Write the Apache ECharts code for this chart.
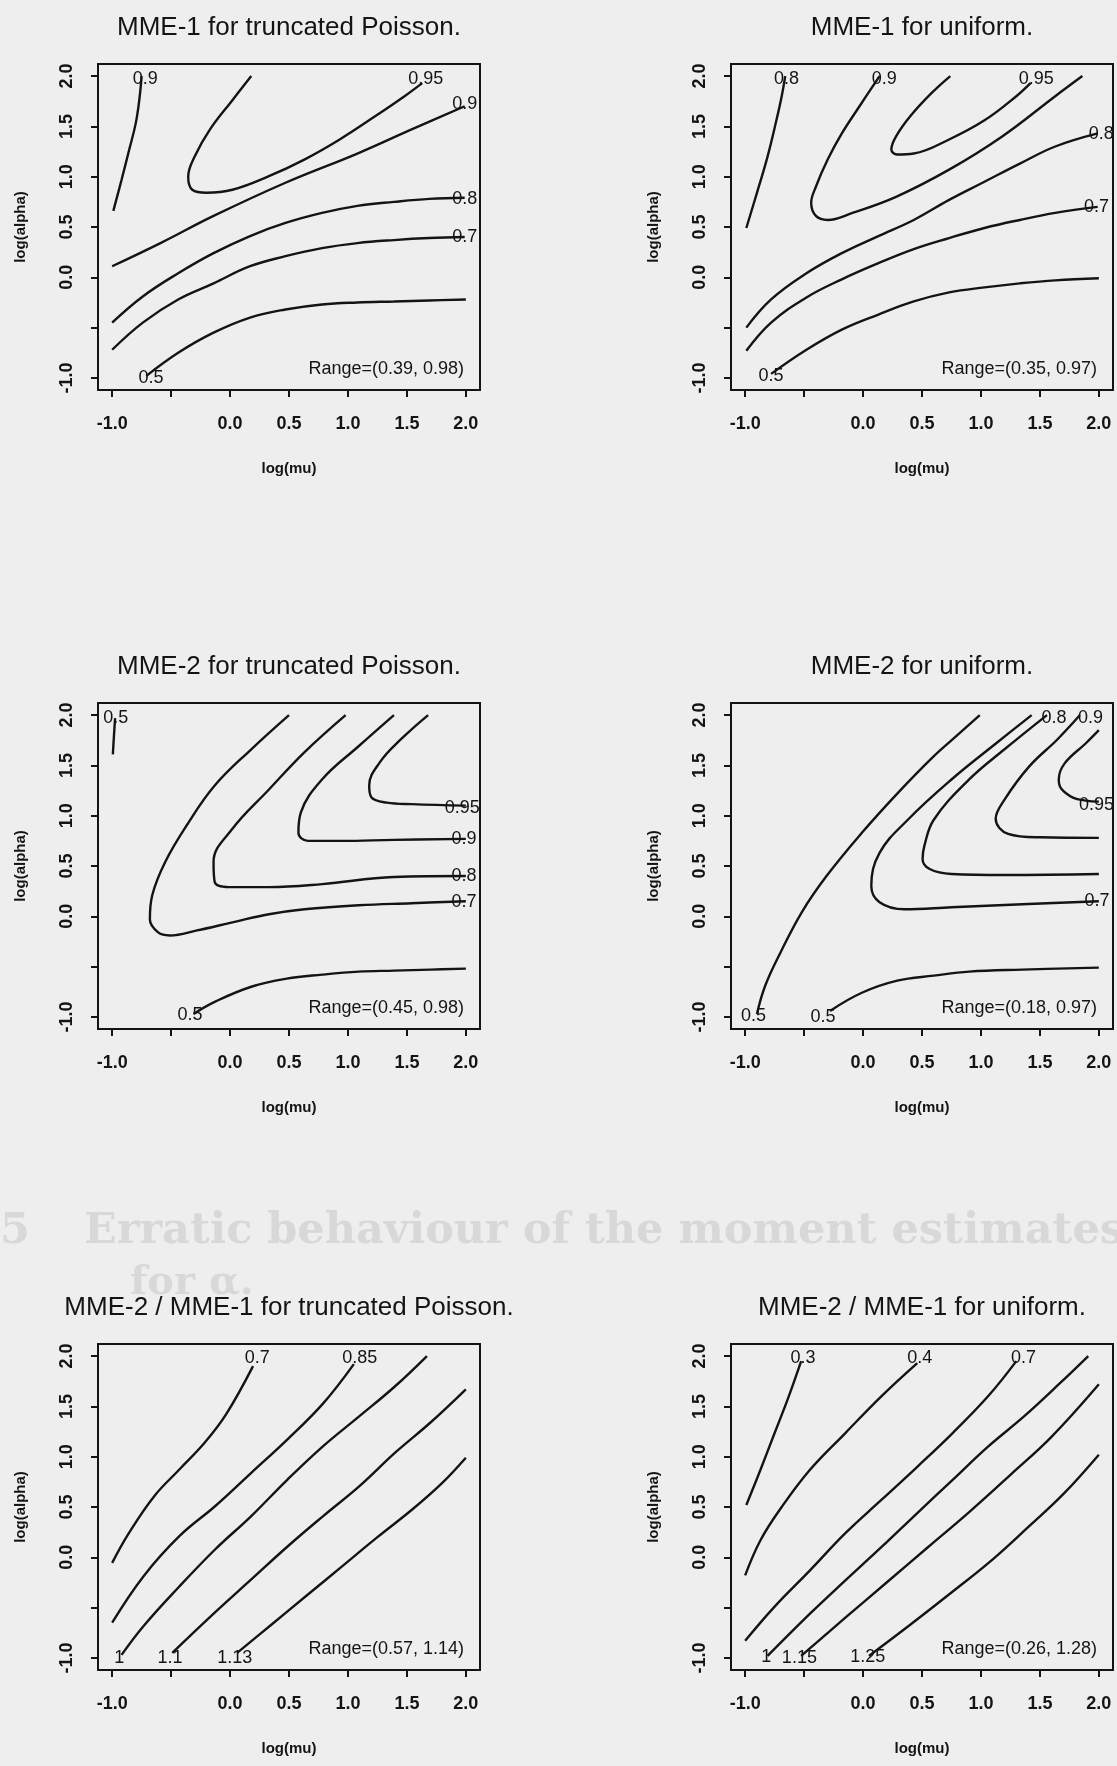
<!DOCTYPE html>
<html>
<head>
<meta charset="utf-8">
<title>MME contour plots</title>
<script src="https://cdn.jsdelivr.net/npm/echarts@6.0.0/dist/echarts.min.js"></script>
<style>
  html, body { margin: 0; padding: 0; background: #eeeeee; }
  #chart { width: 1117px; height: 1766px; }
</style>
</head>
<body>
<div id="chart"></div>
<script>
// ticks shared by all six panels (R drops the -0.5 label, it would overlap)
var tickValues = [-1, -0.5, 0, 0.5, 1, 1.5, 2];
var labelValues = [-1, 0, 0.5, 1, 1.5, 2];

var panelTitles = [
    'MME-1 for truncated Poisson.',
    'MME-1 for uniform.',
    'MME-2 for truncated Poisson.',
    'MME-2 for uniform.',
    'MME-2 / MME-1 for truncated Poisson.',
    'MME-2 / MME-1 for uniform.'
];
var rangeTexts = [
    'Range=(0.39, 0.98)',
    'Range=(0.35, 0.97)',
    'Range=(0.45, 0.98)',
    'Range=(0.18, 0.97)',
    'Range=(0.57, 1.14)',
    'Range=(0.26, 1.28)'
];

// contour lines as [log(mu), log(alpha)] points
var mme1PoissonLines = [
    [[-0.99,0.66],[-0.92,0.97],[-0.855,1.27],[-0.80,1.53],[-0.77,1.76],[-0.75,2.0]],
    [[0.18,2.0],[0.02,1.76],[-0.17,1.47],[-0.30,1.20],[-0.355,1.0],[-0.32,0.87],[-0.20,0.84],[0.02,0.87],[0.32,1.0],[0.63,1.17],[0.93,1.37],[1.23,1.60],[1.48,1.80],[1.63,1.93]],
    [[-1.0,0.11],[-0.59,0.34],[-0.14,0.61],[0.47,0.94],[1.08,1.23],[1.54,1.47],[1.99,1.70]],
    [[-1.0,-0.45],[-0.74,-0.19],[-0.44,0.04],[-0.14,0.24],[0.17,0.41],[0.47,0.54],[0.78,0.64],[1.08,0.71],[1.39,0.75],[1.69,0.78],[1.99,0.79]],
    [[-1.0,-0.72],[-0.74,-0.45],[-0.44,-0.22],[-0.14,-0.06],[0.17,0.11],[0.47,0.21],[0.78,0.29],[1.08,0.34],[1.39,0.37],[1.69,0.39],[1.99,0.40]],
    [[-0.71,-0.98],[-0.44,-0.75],[-0.14,-0.55],[0.17,-0.40],[0.47,-0.32],[0.78,-0.27],[1.08,-0.25],[1.39,-0.24],[1.69,-0.23],[2.0,-0.22]]
];
var mme1PoissonLabels = [[-0.72,1.97,'0.9'],[1.66,1.97,'0.95'],[1.99,1.72,'0.9'],[1.99,0.78,'0.8'],[1.99,0.40,'0.7'],[-0.67,-1.0,'0.5']];

var mme1UniformLines = [
    [[-0.99,0.49],[-0.90,0.84],[-0.81,1.20],[-0.735,1.56],[-0.69,1.80],[-0.66,2.0]],
    [[0.14,2.0],[-0.03,1.70],[-0.18,1.43],[-0.30,1.17],[-0.40,0.90],[-0.44,0.74],[-0.40,0.61],[-0.30,0.57],[-0.09,0.64],[0.28,0.80],[0.73,1.07],[1.18,1.40],[1.63,1.80],[1.86,2.0]],
    [[0.74,2.0],[0.58,1.83],[0.40,1.60],[0.28,1.40],[0.24,1.27],[0.29,1.22],[0.43,1.23],[0.73,1.37],[1.03,1.56],[1.30,1.80],[1.42,1.93]],
    [[-0.99,-0.50],[-0.78,-0.22],[-0.48,0.04],[-0.18,0.24],[0.13,0.41],[0.43,0.57],[0.73,0.77],[1.03,0.95],[1.33,1.13],[1.63,1.30],[1.99,1.43]],
    [[-0.99,-0.73],[-0.78,-0.45],[-0.48,-0.20],[-0.18,-0.02],[0.13,0.14],[0.43,0.28],[0.73,0.39],[1.03,0.49],[1.33,0.57],[1.63,0.64],[1.99,0.70]],
    [[-0.78,-0.96],[-0.48,-0.72],[-0.18,-0.52],[0.13,-0.37],[0.43,-0.24],[0.73,-0.15],[1.03,-0.10],[1.33,-0.06],[1.63,-0.03],[2.0,-0.01]]
];
var mme1UniformLabels = [[-0.65,1.97,'0.8'],[0.18,1.97,'0.9'],[1.47,1.97,'0.95'],[2.02,1.42,'0.8'],[1.98,0.70,'0.7'],[-0.78,-0.98,'0.5']];

var mme2PoissonLines = [
    [[-0.994,1.61],[-0.985,1.79],[-0.975,1.97]],
    [[0.50,2.0],[0.18,1.66],[-0.13,1.30],[-0.37,0.90],[-0.55,0.54],[-0.66,0.21],[-0.68,-0.03],[-0.61,-0.16],[-0.51,-0.19],[-0.28,-0.14],[0.02,-0.06],[0.33,0.02],[0.63,0.07],[1.09,0.11],[1.54,0.13],[2.0,0.15]],
    [[0.98,2.0],[0.63,1.63],[0.33,1.26],[0.02,0.87],[-0.14,0.54],[-0.13,0.34],[-0.01,0.29],[0.33,0.29],[0.78,0.32],[1.39,0.39],[2.0,0.40]],
    [[1.39,2.0],[1.09,1.69],[0.78,1.36],[0.60,1.03],[0.58,0.83],[0.66,0.75],[0.94,0.75],[1.39,0.76],[2.0,0.77]],
    [[1.68,2.0],[1.45,1.76],[1.27,1.53],[1.18,1.30],[1.20,1.18],[1.33,1.13],[1.54,1.115],[2.0,1.10]],
    [[-0.31,-0.97],[-0.13,-0.85],[0.18,-0.70],[0.48,-0.62],[0.78,-0.58],[1.09,-0.55],[1.39,-0.54],[1.70,-0.53],[2.0,-0.52]]
];
var mme2PoissonLabels = [[-0.97,1.97,'0.5'],[1.97,1.08,'0.95'],[1.985,0.77,'0.9'],[1.985,0.40,'0.8'],[1.985,0.14,'0.7'],[-0.34,-0.98,'0.5']];

var mme2UniformLines = [
    [[-0.90,-0.97],[-0.83,-0.69],[-0.70,-0.36],[-0.52,0.04],[-0.31,0.40],[-0.01,0.83],[0.29,1.22],[0.59,1.58],[0.80,1.80],[0.99,2.0]],
    [[1.43,2.0],[1.14,1.73],[0.75,1.36],[0.38,0.96],[0.14,0.63],[0.07,0.30],[0.14,0.14],[0.35,0.07],[0.75,0.09],[1.35,0.12],[2.0,0.15]],
    [[1.56,2.0],[1.20,1.66],[0.90,1.36],[0.60,0.96],[0.52,0.70],[0.505,0.57],[0.565,0.47],[0.75,0.42],[1.20,0.41],[2.0,0.42]],
    [[1.84,2.0],[1.65,1.76],[1.41,1.49],[1.20,1.16],[1.125,0.97],[1.23,0.82],[1.50,0.785],[2.0,0.78]],
    [[2.0,1.85],[1.89,1.72],[1.71,1.52],[1.66,1.36],[1.68,1.27],[1.78,1.18],[1.89,1.15],[2.0,1.14]],
    [[-0.28,-0.94],[-0.01,-0.76],[0.29,-0.64],[0.60,-0.59],[0.90,-0.55],[1.35,-0.53],[2.0,-0.51]]
];
var mme2UniformLabels = [[-0.93,-0.99,'0.5'],[-0.34,-1.0,'0.5'],[1.62,1.97,'0.8'],[1.93,1.97,'0.9'],[1.98,1.11,'0.95'],[1.985,0.15,'0.7']];

var ratioPoissonLines = [
    [[-1.0,-0.055],[-0.857,0.243],[-0.643,0.608],[-0.43,0.873],[-0.216,1.138],[-0.034,1.42],[0.195,1.90]],
    [[-1.0,-0.65],[-0.735,-0.19],[-0.43,0.21],[-0.125,0.51],[0.18,0.84],[0.485,1.17],[0.79,1.53],[1.05,1.92]],
    [[-0.92,-0.97],[-0.735,-0.685],[-0.43,-0.29],[-0.125,0.08],[0.18,0.41],[0.485,0.77],[0.79,1.105],[1.095,1.40],[1.40,1.70],[1.67,2.0]],
    [[-0.49,-0.95],[-0.13,-0.55],[0.18,-0.22],[0.49,0.11],[0.79,0.41],[1.10,0.71],[1.40,1.04],[1.70,1.34],[2.0,1.67]],
    [[0.06,-0.95],[0.35,-0.67],[0.65,-0.38],[0.95,-0.09],[1.25,0.20],[1.55,0.48],[1.80,0.74],[2.0,0.99]]
];
var ratioPoissonLabels = [[0.23,1.98,'0.7'],[1.10,1.98,'0.85'],[-0.94,-1.0,'1'],[-0.51,-1.0,'1.1'],[0.04,-1.0,'1.13']];

var ratioUniformLines = [
    [[-0.99,0.52],[-0.87,0.87],[-0.75,1.235],[-0.63,1.60],[-0.525,1.95]],
    [[-1.0,-0.18],[-0.87,0.17],[-0.69,0.50],[-0.45,0.87],[-0.15,1.235],[0.155,1.60],[0.46,1.93]],
    [[-1.0,-0.83],[-0.75,-0.49],[-0.45,-0.13],[-0.15,0.24],[0.155,0.57],[0.46,0.90],[0.76,1.235],[1.06,1.60],[1.30,1.95]],
    [[-0.81,-0.98],[-0.45,-0.56],[-0.15,-0.23],[0.155,0.10],[0.46,0.44],[0.76,0.77],[1.06,1.10],[1.365,1.40],[1.67,1.73],[1.91,2.0]],
    [[-0.525,-0.98],[-0.15,-0.60],[0.20,-0.25],[0.55,0.10],[0.90,0.45],[1.25,0.82],[1.60,1.20],[2.0,1.72]],
    [[0.05,-0.98],[0.40,-0.67],[0.75,-0.35],[1.10,-0.02],[1.40,0.30],[1.70,0.63],[2.0,1.02]]
];
var ratioUniformLabels = [[-0.51,1.98,'0.3'],[0.48,1.98,'0.4'],[1.36,1.98,'0.7'],[-0.82,-0.99,'1'],[-0.54,-1.0,'1.15'],[0.04,-0.99,'1.25']];

var allLines = [mme1PoissonLines, mme1UniformLines, mme2PoissonLines, mme2UniformLines, ratioPoissonLines, ratioUniformLines];
var allLabels = [mme1PoissonLabels, mme1UniformLabels, mme2PoissonLabels, mme2UniformLabels, ratioPoissonLabels, ratioUniformLabels];

// layout of the scanned page
var ink = '#141414';
var faint = '#d8d8d8';
var sans = "'Liberation Sans', Arial, Helvetica, sans-serif";
var colLeft = [98, 731];
var rowTop = [64, 703, 1344];
var boxW = 382, boxH = 326;

var dom = document.getElementById('chart');
var myChart = echarts.init(dom, null, {renderer: 'canvas'});

var grids = [], xAxes = [], yAxes = [], series = [], graphics = [];

function fmt(v) {
    return v.toFixed(1);
}

for (var i = 0; i < 6; i++) {
    var gridLeft = colLeft[i % 2];
    var gridTop = rowTop[Math.floor(i / 2)];

    grids.push({
        left: gridLeft, top: gridTop, width: boxW, height: boxH,
        show: true, borderColor: ink, borderWidth: 2, backgroundColor: 'transparent'
    });

    xAxes.push({
        gridIndex: i, type: 'value', min: -1.12, max: 2.12,
        name: 'log(mu)', nameLocation: 'middle', nameGap: 71,
        nameTextStyle: {fontFamily: sans, fontSize: 15, fontWeight: 'bold', color: ink},
        axisLine: {show: true, onZero: false, lineStyle: {color: ink, width: 2}},
        axisTick: {show: true, inside: false, length: 7, customValues: tickValues, lineStyle: {color: ink, width: 2}},
        axisLabel: {show: true, customValues: labelValues, formatter: fmt, margin: 25,
            fontFamily: sans, fontSize: 18, fontWeight: 'bold', color: ink},
        splitLine: {show: false}
    });

    yAxes.push({
        gridIndex: i, type: 'value', min: -1.12, max: 2.12,
        name: 'log(alpha)', nameLocation: 'middle', nameGap: 70,
        nameTextStyle: {fontFamily: sans, fontSize: 15, fontWeight: 'bold', color: ink},
        axisLine: {show: true, onZero: false, lineStyle: {color: ink, width: 2}},
        axisTick: {show: true, inside: false, length: 7, customValues: tickValues, lineStyle: {color: ink, width: 2}},
        axisLabel: {show: true, customValues: labelValues, formatter: fmt, rotate: 90, margin: 22,
            fontFamily: sans, fontSize: 18, fontWeight: 'bold', color: ink},
        splitLine: {show: false}
    });

    allLines[i].forEach(function (pts) {
        series.push({
            type: 'line', xAxisIndex: i, yAxisIndex: i,
            data: pts, smooth: 0.4, symbol: 'none', silent: true,
            lineStyle: {color: ink, width: 2.4}
        });
    });

    // contour level labels sit on the ends of the lines, as R draws them
    series.push({
        type: 'scatter', xAxisIndex: i, yAxisIndex: i, symbolSize: 0, silent: true, z: 5,
        itemStyle: {color: ink, opacity: 1},
        data: allLabels[i].map(function (l) { return {value: [l[0], l[1]], name: l[2]}; }),
        label: {show: true, position: [0, 0], align: 'center', verticalAlign: 'middle', formatter: '{b}',
            fontFamily: sans, fontSize: 18, fontWeight: 'normal', color: ink, opacity: 1, textBorderWidth: 0}
    });

    graphics.push({
        type: 'text', x: gridLeft + boxW / 2, y: gridTop - 36,
        style: {text: panelTitles[i], fill: ink, font: '26px ' + sans, align: 'center', verticalAlign: 'middle'}
    });
    graphics.push({
        type: 'text', x: gridLeft + boxW - 16, y: gridTop + boxH - 21,
        style: {text: rangeTexts[i], fill: ink, font: '18px ' + sans, align: 'right', verticalAlign: 'middle'}
    });
}

// faint section heading showing through the page
graphics.push({
    type: 'text', x: 30, y: 1232, z: -1,
    style: {text: '3.5', fill: faint, font: 'bold 43px "DejaVu Serif", serif', align: 'right', verticalAlign: 'middle'}
});
graphics.push({
    type: 'text', x: 84, y: 1232, z: -1,
    style: {text: 'Erratic behaviour of the moment estimates', fill: faint, font: 'bold 43px "DejaVu Serif", serif', align: 'left', verticalAlign: 'middle'}
});
graphics.push({
    type: 'text', x: 130, y: 1284, z: -1,
    style: {text: 'for α.', fill: faint, font: 'bold 40px "DejaVu Serif", serif', align: 'left', verticalAlign: 'middle'}
});

var option = {
    backgroundColor: '#eeeeee',
    animation: false,
    grid: grids,
    xAxis: xAxes,
    yAxis: yAxes,
    series: series,
    graphic: graphics
};

if (option && typeof option === 'object') {
    myChart.setOption(option);
}
</script>
</body>
</html>
